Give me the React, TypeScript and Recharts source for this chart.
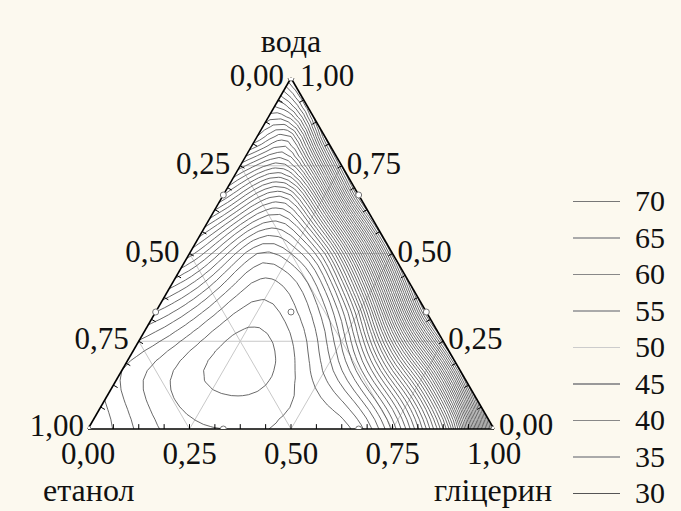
import React from 'react';
import { ComposedChart, XAxis, YAxis, Line, Scatter, ReferenceLine, ReferenceArea, ReferenceDot } from 'recharts';

const H = Math.sqrt(3) / 2;

// simplex-lattice {3,3} design + centroid: fractions of етанол / вода / гліцерин and the response read at each
const designEthanol = [1, 0, 0, 2 / 3, 1 / 3, 0, 0, 2 / 3, 1 / 3, 1 / 3];
const designWater = [0, 1, 0, 1 / 3, 2 / 3, 2 / 3, 1 / 3, 0, 0, 1 / 3];
const designGlycerin = [0, 0, 1, 0, 0, 1 / 3, 2 / 3, 1 / 3, 2 / 3, 1 / 3];
const designResponse = [36, 66, 82, 37, 49, 70, 73, 32, 33.5, 32.6];

// extra response values
const readEthanol = [0.5, 0.5, 1 / 3, 1 / 4, 1 / 6, 1 / 12, 1 / 6, 1 / 6, 1 / 6, 1 / 12, 0.5, 5 / 6, 2 / 3, 1 / 3, 1 / 6, 1 / 12, 1 / 12, 1 / 6, 0];
const readWater = [0.2, 0.5, 0.5, 0.5, 0.5, 0.5, 2 / 3, 1 / 3, 1 / 6, 1 / 6, 0, 1 / 6, 1 / 6, 1 / 6, 0, 0, 5 / 6, 5 / 6, 5 / 6];
const readGlycerin = [0.3, 0, 1 / 6, 1 / 4, 1 / 3, 5 / 12, 1 / 6, 1 / 2, 2 / 3, 3 / 4, 0.5, 0, 1 / 6, 1 / 2, 5 / 6, 11 / 12, 1 / 12, 0, 1 / 6];
const readResponse = [30.3, 42.5, 35, 36, 41, 53, 44, 43, 46, 56, 32.2, 34, 31.4, 34.2, 46, 58, 55, 57, 68];

const axisTicks = [0, 0.25, 0.5, 0.75, 1];
const axisTickLabels = ['0,00', '0,25', '0,50', '0,75', '1,00'];
const legendLevels = [70, 65, 60, 55, 50, 45, 40, 35, 30];
const legendColors = ['#777', '#aaa', '#888', '#aaa', '#ccc', '#999', '#888', '#aaa', '#555'];
const contourStep = 1;

const FONT = '"Liberation Serif", "Times New Roman", serif';

// ternary -> cartesian (glycerin to the right, water up)
const toXY = (e: number, w: number, g: number) => ({ x: g + w / 2, y: w * H });

function solve(A: number[][], b: number[]) {
  const n = b.length;
  const M = A.map((r, i) => [...r, b[i]]);
  for (let c = 0; c < n; c++) {
    let p = c;
    for (let r = c + 1; r < n; r++) if (Math.abs(M[r][c]) > Math.abs(M[p][c])) p = r;
    [M[c], M[p]] = [M[p], M[c]];
    for (let r = 0; r < n; r++) {
      if (r === c) continue;
      const f = M[r][c] / M[c][c];
      for (let k = c; k <= n; k++) M[r][k] -= f * M[c][k];
    }
  }
  return M.map((r, i) => r[n] / r[i]);
}

// thin-plate spline surface through the read values
const samples = [
  ...designResponse.map((v, i) => ({ ...toXY(designEthanol[i], designWater[i], designGlycerin[i]), v })),
  ...readResponse.map((v, i) => ({ ...toXY(readEthanol[i], readWater[i], readGlycerin[i]), v })),
];
const kern = (r2: number) => (r2 > 1e-12 ? 0.5 * r2 * Math.log(r2) : 0);
const nS = samples.length;
const sys: number[][] = [];
for (let i = 0; i < nS; i++) {
  const row = samples.map((s) => kern((s.x - samples[i].x) ** 2 + (s.y - samples[i].y) ** 2));
  row.push(1, samples[i].x, samples[i].y);
  sys.push(row);
}
sys.push([...samples.map(() => 1), 0, 0, 0]);
sys.push([...samples.map((s) => s.x), 0, 0, 0]);
sys.push([...samples.map((s) => s.y), 0, 0, 0]);
const tps = solve(sys, [...samples.map((s) => s.v), 0, 0, 0]);
const surface = (x: number, y: number) => {
  let s = tps[nS] + tps[nS + 1] * x + tps[nS + 2] * y;
  for (let i = 0; i < nS; i++) s += tps[i] * kern((x - samples[i].x) ** 2 + (y - samples[i].y) ** 2);
  return s;
};

// triangular grid for the contours
const N = 36;
const X: number[] = [];
const Y: number[] = [];
const V: number[] = [];
const vid: number[][] = [];
for (let i = 0; i <= N; i++) {
  vid.push([]);
  for (let j = 0; j <= N - i; j++) {
    const p = toXY(1 - (i + j) / N, i / N, j / N);
    vid[i].push(X.length);
    X.push(p.x);
    Y.push(p.y);
    V.push(surface(p.x, p.y));
  }
}
const tris: number[][] = [];
for (let i = 0; i < N; i++) {
  for (let j = 0; j < N - i; j++) {
    tris.push([vid[i][j], vid[i][j + 1], vid[i + 1][j]]);
    if (j < N - i - 1) tris.push([vid[i][j + 1], vid[i + 1][j + 1], vid[i + 1][j]]);
  }
}

type Pt = { x: number; y: number | null };

function contour(level: number): Pt[] {
  const pts = new Map<string, { x: number; y: number }>();
  const segs: [string, string][] = [];
  for (const t of tris) {
    const cross: string[] = [];
    for (const [p, q] of [[t[0], t[1]], [t[1], t[2]], [t[2], t[0]]]) {
      const vp = V[p], vq = V[q];
      if ((vp < level) !== (vq < level)) {
        const key = p < q ? p + '-' + q : q + '-' + p;
        if (!pts.has(key)) {
          const s = (level - vp) / (vq - vp);
          pts.set(key, { x: X[p] + s * (X[q] - X[p]), y: Y[p] + s * (Y[q] - Y[p]) });
        }
        cross.push(key);
      }
    }
    if (cross.length === 2) segs.push([cross[0], cross[1]]);
  }
  const adj = new Map<string, number[]>();
  segs.forEach((s, k) => s.forEach((e) => { if (!adj.has(e)) adj.set(e, []); adj.get(e)!.push(k); }));
  const used = segs.map(() => false);
  const walk = (start: string, chain: string[]) => {
    let cur = start;
    for (;;) {
      const next = (adj.get(cur) || []).find((k) => !used[k]);
      if (next === undefined) break;
      used[next] = true;
      cur = segs[next][0] === cur ? segs[next][1] : segs[next][0];
      chain.push(cur);
    }
  };
  const out: Pt[] = [];
  segs.forEach((s, k) => {
    if (used[k]) return;
    used[k] = true;
    const fwd = [s[1]];
    walk(s[1], fwd);
    const back = [s[0]];
    walk(s[0], back);
    const chain = back.reverse().concat(fwd).map((key) => pts.get(key)!);
    out.push(...chain, { x: chain[chain.length - 1].x, y: null });
  });
  return out;
}

const vMin = Math.min(...V);
const vMax = Math.max(...V);
const levels: number[] = [];
for (let L = Math.ceil(vMin / contourStep) * contourStep; L < vMax; L += contourStep) levels.push(L);
const contours = levels.map((L) => ({ level: L, data: contour(L) }));

const designPoints = designResponse.map((_, i) => toXY(designEthanol[i], designWater[i], designGlycerin[i]));

const gridColor = '#c8c8c8';

function textShape(label: string, dx: number, dy: number, anchor: 'start' | 'middle' | 'end', size = 31) {
  return (props: any) => (
    <text x={props.cx + dx} y={props.cy + dy} textAnchor={anchor} fontFamily={FONT} fontSize={size} fill="#111">
      {label}
    </text>
  );
}

export default function App() {
  const edges = [
    [toXY(1, 0, 0), toXY(0, 1, 0)],
    [toXY(0, 1, 0), toXY(0, 0, 1)],
    [toXY(0, 0, 1), toXY(1, 0, 0)],
  ];
  const gridLines: { x: number; y: number }[][] = [];
  [0.25, 0.5, 0.75].forEach((k) => {
    gridLines.push([toXY(1 - k, k, 0), toXY(0, k, 1 - k)]);
    gridLines.push([toXY(1 - k, 0, k), toXY(0, 1 - k, k)]);
    gridLines.push([toXY(k, 0, 1 - k), toXY(k, 1 - k, 0)]);
  });
  const tickMarks: { x: number; y: number }[][] = [];
  const tl = 0.012;
  for (let k = 1; k < 16; k++) {
    const f = k / 16;
    const b = toXY(1 - f, 0, f);
    tickMarks.push([b, { x: b.x, y: b.y + tl }]);
    const r = toXY(0, f, 1 - f);
    tickMarks.push([r, { x: r.x - tl * H, y: r.y - tl / 2 }]);
    const l = toXY(1 - f, f, 0);
    tickMarks.push([l, { x: l.x + tl * H, y: l.y - tl / 2 }]);
  }

  return (
    <div style={{ position: 'absolute', left: 0, top: 0, width: 681, height: 511, background: '#fcf9ef' }}>
      <ComposedChart width={681} height={511} margin={{ top: 78, right: 187, bottom: 82, left: 88 }}>
        <XAxis type="number" dataKey="x" domain={[0, 1]} hide allowDataOverflow />
        <YAxis type="number" dataKey="y" domain={[0, H]} hide allowDataOverflow />
        <ReferenceArea
          x1={0}
          x2={1}
          y1={0}
          y2={H}
          shape={(p: any) => (
            <polygon
              points={`${p.x},${p.y + p.height} ${p.x + p.width / 2},${p.y} ${p.x + p.width},${p.y + p.height}`}
              fill="#ffffff"
            />
          )}
        />
        {gridLines.map((s, i) => (
          <ReferenceLine key={'g' + i} segment={s} stroke={gridColor} strokeWidth={1} />
        ))}
        {contours.map((c) => (
          <Line
            key={'c' + c.level}
            data={c.data}
            dataKey="y"
            stroke="#444"
            strokeWidth={0.8}
            dot={false}
            activeDot={false}
            connectNulls={false}
            isAnimationActive={false}
          />
        ))}
        {edges.map((s, i) => (
          <ReferenceLine key={'e' + i} segment={s} stroke="#000" strokeWidth={1.6} />
        ))}
        {tickMarks.map((s, i) => (
          <ReferenceLine key={'t' + i} segment={s} stroke="#000" strokeWidth={1} />
        ))}
        <Scatter
          data={designPoints}
          isAnimationActive={false}
          shape={(p: any) => <circle cx={p.cx} cy={p.cy} r={3} fill="#fff" stroke="#777" strokeWidth={1} />}
        />
        {/* left edge: етанол */}
        {axisTicks.map((t, i) => {
          const p = toXY(t, 1 - t, 0);
          return (
            <ReferenceDot key={'le' + i} x={p.x} y={p.y} r={1}
              shape={textShape(axisTickLabels[i], t === 1 ? -4 : t === 0 ? -7 : -10, t === 1 ? 7 : 8, 'end')} />
          );
        })}
        {/* right edge: вода */}
        {axisTicks.map((t, i) => {
          const p = toXY(0, t, 1 - t);
          return (
            <ReferenceDot key={'ri' + i} x={p.x} y={p.y} r={1}
              shape={textShape(axisTickLabels[i], t === 1 ? 9 : 5, t === 0 ? 6 : 8, 'start')} />
          );
        })}
        {/* bottom: гліцерин */}
        {axisTicks.map((t, i) => {
          const p = toXY(1 - t, 0, t);
          return <ReferenceDot key={'bo' + i} x={p.x} y={p.y} r={1} shape={textShape(axisTickLabels[i], 0, 35, 'middle')} />;
        })}
        <ReferenceDot x={0.5} y={H} r={1} shape={textShape('вода', 0, -26, 'middle', 32)} />
        <ReferenceDot x={0} y={0} r={1} shape={textShape('етанол', -45, 72, 'start', 32)} />
        <ReferenceDot x={1} y={0} r={1} shape={textShape('гліцерин', 58, 72, 'end', 32)} />
      </ComposedChart>
      <div style={{ position: 'absolute', left: 573, top: 183, fontFamily: FONT, fontSize: 30, color: '#111' }}>
        {legendLevels.map((lv, i) => (
          <div key={lv} style={{ height: 36.5, display: 'flex', alignItems: 'center' }}>
            <div style={{ width: 47, height: 1.5, background: legendColors[i] }} />
            <span style={{ marginLeft: 15, lineHeight: 1 }}>{lv}</span>
          </div>
        ))}
      </div>
    </div>
  );
}
